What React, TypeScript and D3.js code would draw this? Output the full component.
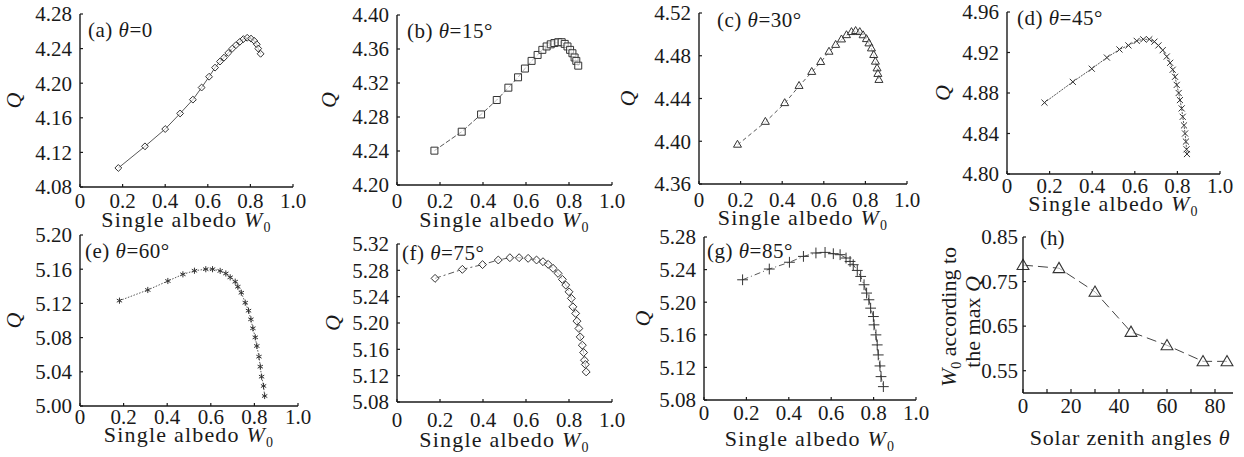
import React from 'react';
import * as d3 from 'd3';

// single scattering albedo W0 vs Q, one pair of arrays per zenith angle
const albedoA = [0.18, 0.305, 0.40, 0.47, 0.53, 0.571, 0.606, 0.634, 0.657, 0.676, 0.696, 0.715, 0.732, 0.751, 0.767, 0.785, 0.803, 0.818, 0.83, 0.837, 0.848];
const qA = [4.102, 4.127, 4.147, 4.165, 4.181, 4.195, 4.2075, 4.218, 4.225, 4.2295, 4.235, 4.240, 4.244, 4.248, 4.251, 4.2525, 4.2515, 4.249, 4.245, 4.240, 4.234];

const albedoB = [0.174, 0.301, 0.391, 0.464, 0.518, 0.563, 0.595, 0.626, 0.654, 0.676, 0.696, 0.715, 0.732, 0.75, 0.766, 0.78, 0.793, 0.805, 0.816, 0.826, 0.834, 0.843];
const qB = [4.2404, 4.2627, 4.283, 4.300, 4.3145, 4.3267, 4.337, 4.346, 4.353, 4.359, 4.363, 4.3655, 4.367, 4.368, 4.368, 4.366, 4.363, 4.359, 4.355, 4.350, 4.346, 4.3404];

const albedoC = [0.185, 0.319, 0.412, 0.481, 0.542, 0.585, 0.625, 0.657, 0.685, 0.709, 0.733, 0.753, 0.773, 0.789, 0.805, 0.817, 0.829, 0.84, 0.848, 0.856, 0.86, 0.865];
const qC = [4.3966, 4.418, 4.4355, 4.4516, 4.4647, 4.474, 4.4836, 4.490, 4.4951, 4.4991, 4.502, 4.503, 4.502, 4.499, 4.4954, 4.4914, 4.4867, 4.4805, 4.4743, 4.468, 4.4628, 4.4572];

const albedoD = [0.176, 0.309, 0.398, 0.469, 0.528, 0.570, 0.609, 0.640, 0.668, 0.692, 0.711, 0.731, 0.75, 0.766, 0.778, 0.789, 0.797, 0.806, 0.812, 0.82, 0.825, 0.831, 0.836, 0.84, 0.843, 0.845];
const qD = [4.8705, 4.891, 4.904, 4.915, 4.923, 4.927, 4.9315, 4.933, 4.933, 4.9307, 4.927, 4.9223, 4.916, 4.9098, 4.903, 4.896, 4.888, 4.880, 4.873, 4.8648, 4.8565, 4.848, 4.840, 4.832, 4.8244, 4.8197];

const albedoE = [0.181, 0.311, 0.403, 0.472, 0.525, 0.577, 0.608, 0.643, 0.669, 0.689, 0.712, 0.724, 0.740, 0.758, 0.773, 0.784, 0.793, 0.804, 0.811, 0.821, 0.827, 0.833, 0.842, 0.847];
const qE = [5.1232, 5.1357, 5.1462, 5.154, 5.1582, 5.160, 5.160, 5.158, 5.155, 5.1505, 5.1454, 5.1395, 5.1325, 5.1208, 5.1115, 5.1014, 5.0909, 5.0803, 5.0702, 5.0577, 5.046, 5.0343, 5.0234, 5.0117];

const albedoF = [0.177, 0.304, 0.398, 0.471, 0.525, 0.568, 0.61, 0.649, 0.679, 0.703, 0.726, 0.749, 0.769, 0.785, 0.8, 0.811, 0.818, 0.831, 0.837, 0.846, 0.852, 0.862, 0.868, 0.872, 0.876, 0.880];
const qF = [5.2678, 5.2815, 5.2887, 5.2957, 5.2992, 5.2992, 5.2982, 5.2957, 5.2931, 5.2891, 5.283, 5.2754, 5.2663, 5.2576, 5.2474, 5.2374, 5.2246, 5.2145, 5.2028, 5.1917, 5.1789, 5.1663, 5.1552, 5.1435, 5.137, 5.1257];

const albedoG = [0.182, 0.308, 0.403, 0.469, 0.528, 0.571, 0.61, 0.642, 0.67, 0.689, 0.704, 0.723, 0.739, 0.755, 0.767, 0.778, 0.786, 0.799, 0.802, 0.811, 0.817, 0.822, 0.83, 0.835, 0.846];
const qG = [5.2275, 5.2407, 5.249, 5.2562, 5.2604, 5.2611, 5.2595, 5.2583, 5.2542, 5.25, 5.246, 5.239, 5.2316, 5.2214, 5.2112, 5.203, 5.1927, 5.1824, 5.1722, 5.1599, 5.1476, 5.1353, 5.1218, 5.1087, 5.0964];

// (h) albedo at the max Q vs solar zenith angle
const zenith = [0, 15, 30, 45, 60, 75, 85];
const w0AtMaxQ = [0.787, 0.78, 0.727, 0.637, 0.607, 0.571, 0.571];

// tick labels
const albedoTicks = [0, 0.2, 0.4, 0.6, 0.8, 1.0];
const ticksA = [4.08, 4.12, 4.16, 4.20, 4.24, 4.28];
const ticksB = [4.20, 4.24, 4.28, 4.32, 4.36, 4.40];
const ticksC = [4.36, 4.40, 4.44, 4.48, 4.52];
const ticksD = [4.80, 4.84, 4.88, 4.92, 4.96];
const ticksE = [5.00, 5.04, 5.08, 5.12, 5.16, 5.20];
const ticksF = [5.08, 5.12, 5.16, 5.20, 5.24, 5.28, 5.32];
const ticksG = [5.08, 5.12, 5.16, 5.20, 5.24, 5.28];
const zenithTicks = [0, 10, 20, 30, 40, 50, 60, 70, 80];
const zenithLabels = [0, 20, 40, 60, 80];
const w0Ticks = [0.55, 0.65, 0.75, 0.85];

const FONT = '"Liberation Serif", "DejaVu Serif", "Times New Roman", serif';
const INK = '#1a1a1a';

const panels = [
  { tag: 'a', deg: '0', xs: albedoA, ys: qA, ticks: ticksA, L: 80, R: 293, T: 14, B: 187, tb: 21, ttl: 40, qx: 13, lx: 88, ly: 37, sym: d3.symbolDiamond2, size: 30, dash: null },
  { tag: 'b', deg: '15°', xs: albedoB, ys: qB, ticks: ticksB, L: 397, R: 612, T: 15, B: 185, tb: 23, ttl: 42, qx: 328, lx: 407, ly: 38, sym: d3.symbolSquare2, size: 62, dash: '5,2' },
  { tag: 'c', deg: '30°', xs: albedoC, ys: qC, ticks: ticksC, L: 699, R: 907, T: 13, B: 184, tb: 23, ttl: 41, qx: 627, lx: 717, ly: 27, sym: d3.symbolTriangle2, size: 46, dash: '4,3' },
  { tag: 'd', deg: '45°', xs: albedoD, ys: qD, ticks: ticksD, L: 1007, R: 1220, T: 12, B: 174, tb: 19, ttl: 37, qx: 942, lx: 1017, ly: 25, sym: d3.symbolTimes, size: 26, dash: '2,1' },
  { tag: 'e', deg: '60°', xs: albedoE, ys: qE, ticks: ticksE, L: 80, R: 298, T: 235, B: 406, tb: 18, ttl: 36, qx: 13, lx: 85, ly: 258, sym: d3.symbolAsterisk, size: 26, dash: '1.5,1.5' },
  { tag: 'f', deg: '75°', xs: albedoF, ys: qF, ticks: ticksF, L: 397, R: 612, T: 244, B: 402, tb: 25, ttl: 45, qx: 332, lx: 402, ly: 260, sym: d3.symbolDiamond2, size: 40, dash: '6,3,2,3' },
  { tag: 'g', deg: '85°', xs: albedoG, ys: qG, ticks: ticksG, L: 704, R: 916, T: 237, B: 400, tb: 20, ttl: 46, qx: 642, lx: 707, ly: 258, sym: d3.symbolPlus, size: 40, dash: '6,3,1,3' },
];

const XTitle = ({ x, y }: { x: number; y: number }) => (
  <text x={x} y={y} textAnchor="middle" fontSize={22} letterSpacing={1.2} fill={INK}>
    Single albedo <tspan fontStyle="italic">W</tspan>
    <tspan fontSize={14} dy={5}>0</tspan>
  </text>
);

const Panel = ({ p }: { p: any }) => {
  const x = d3.scaleLinear().domain([0, 1]).range([p.L, p.R]);
  const lo = p.ticks[0];
  const hi = p.ticks[p.ticks.length - 1];
  const y = d3.scaleLinear().domain([lo, hi]).range([p.B, p.T]);
  const line = d3.line<number>().x((_, i) => x(p.xs[i])).y((d) => y(d));
  const marker = d3.symbol(p.sym, p.size)() as string;
  return (
    <g>
      <path d={line(p.ys) as string} fill="none" stroke="#444" strokeWidth={0.9} strokeDasharray={p.dash || undefined} />
      {p.ys.map((d: number, i: number) => (
        <path key={i} d={marker} transform={`translate(${x(p.xs[i])},${y(d)})`} fill="#fff" fillOpacity={0.6} stroke="#333" strokeWidth={1} />
      ))}
      <line x1={p.L} x2={p.R} y1={p.B} y2={p.B} stroke={INK} strokeWidth={1.4} />
      <line x1={p.L} x2={p.L} y1={p.T} y2={p.B} stroke={INK} strokeWidth={1.4} />
      {albedoTicks.map((t) => (
        <g key={'x' + t}>
          <line x1={x(t)} x2={x(t)} y1={p.B} y2={p.B - 3} stroke={INK} strokeWidth={1.2} />
          <text x={x(t)} y={p.B + p.tb} textAnchor="middle" fontSize={21} fill={INK}>
            {t === 0 ? '0' : t.toFixed(1)}
          </text>
        </g>
      ))}
      {p.ticks.map((t: number) => (
        <g key={'y' + t}>
          <line x1={p.L} x2={p.L + 3} y1={y(t)} y2={y(t)} stroke={INK} strokeWidth={1.2} />
          <text x={p.L - 8} y={y(t)} dy="0.35em" textAnchor="end" fontSize={21} fill={INK}>
            {t.toFixed(2)}
          </text>
        </g>
      ))}
      <XTitle x={(p.L + p.R) / 2} y={p.B + p.ttl} />
      <text transform={`translate(${p.qx},${(p.T + p.B) / 2}) rotate(-90)`} dy="0.35em" textAnchor="middle" fontSize={22} fontStyle="italic" fill={INK}>
        Q
      </text>
      <text x={p.lx} y={p.ly} fontSize={21} letterSpacing={0.5} fill={INK}>
        ({p.tag}) <tspan fontStyle="italic">θ</tspan>={p.deg}
      </text>
    </g>
  );
};

const PanelH = () => {
  const L = 1023, R = 1233, T = 237, B = 393;
  const x = d3.scaleLinear().domain([0, 87.5]).range([L, R]);
  const y = d3.scaleLinear().domain([0.5, 0.85]).range([B, T]);
  const line = d3.line<number>().x((_, i) => x(zenith[i])).y((d) => y(d));
  const marker = d3.symbol(d3.symbolTriangle2, 100)() as string;
  return (
    <g>
      <path d={line(w0AtMaxQ) as string} fill="none" stroke="#444" strokeWidth={1} strokeDasharray="10,5" />
      {w0AtMaxQ.map((d, i) => (
        <path key={i} d={marker} transform={`translate(${x(zenith[i])},${y(d) + 1})`} fill="#fff" fillOpacity={0.6} stroke="#333" strokeWidth={1.1} />
      ))}
      <line x1={L} x2={R} y1={B} y2={B} stroke={INK} strokeWidth={1.4} />
      <line x1={L} x2={L} y1={T} y2={B} stroke={INK} strokeWidth={1.4} />
      {zenithTicks.map((t) => (
        <line key={'t' + t} x1={x(t)} x2={x(t)} y1={B} y2={B - 4} stroke={INK} strokeWidth={1.2} />
      ))}
      {zenithLabels.map((t) => (
        <text key={'l' + t} x={x(t)} y={B + 20} textAnchor="middle" fontSize={21} fill={INK}>
          {t}
        </text>
      ))}
      {w0Ticks.map((t) => (
        <g key={'y' + t}>
          <line x1={L} x2={L + 3} y1={y(t)} y2={y(t)} stroke={INK} strokeWidth={1.2} />
          <text x={L - 5} y={y(t)} dy="0.35em" textAnchor="end" fontSize={21} fill={INK}>
            {t.toFixed(2)}
          </text>
        </g>
      ))}
      <text x={1130} y={445} textAnchor="middle" fontSize={22} letterSpacing={0.8} fill={INK}>
        Solar zenith angles <tspan fontStyle="italic">θ</tspan>
      </text>
      <text transform="translate(948,317) rotate(-90)" dy="0.35em" textAnchor="middle" fontSize={22} fill={INK}>
        <tspan fontStyle="italic">W</tspan>
        <tspan fontSize={14} dy={5}>0</tspan>
        <tspan dy={-5}> according to</tspan>
      </text>
      <text transform="translate(972,322) rotate(-90)" dy="0.35em" textAnchor="middle" fontSize={22} fill={INK}>
        the max <tspan fontStyle="italic">Q</tspan>
      </text>
      <text x={1040} y={245} fontSize={21} fill={INK}>
        (h)
      </text>
    </g>
  );
};

export default function App() {
  return (
    <svg
      width={1244}
      height={457}
      style={{ position: 'absolute', left: 0, top: 0, background: '#fff', fontFamily: FONT }}
    >
      <rect width={1244} height={457} fill="#fff" />
      {panels.map((p) => (
        <Panel key={p.tag} p={p} />
      ))}
      <PanelH />
    </svg>
  );
}
